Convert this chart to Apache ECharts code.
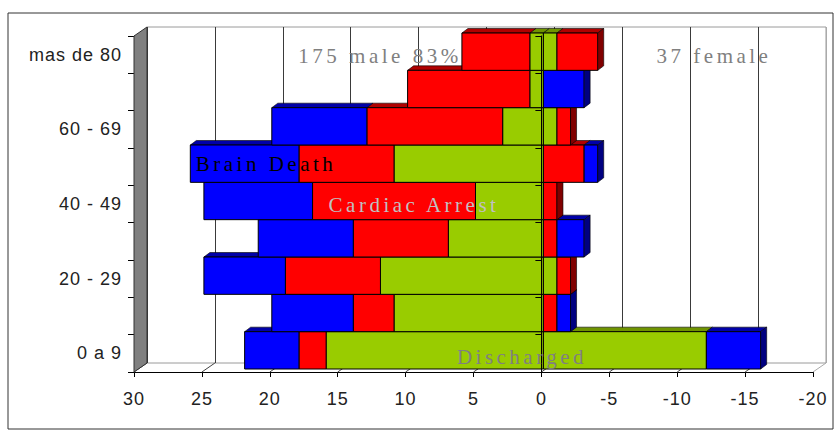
<!DOCTYPE html>
<html>
<head>
<meta charset="utf-8">
<script src="https://cdn.jsdelivr.net/npm/echarts@6/dist/echarts.min.js"></script>
<style>
html,body{margin:0;padding:0;background:#fff;}
#c{width:840px;height:432px;}
</style>
</head>
<body>
<div id="c"></div>
<script>
// ---- data ----
const categories = ['0 a 9', '10 - 19', '20 - 29', '30 - 39', '40 - 49', '50 - 59', '60 - 69', '70 - 79', 'mas de 80'];
const maleDischarged   = [16, 11, 12, 7, 5, 11, 3, 1, 1];
const maleCardiac      = [2, 3, 7, 7, 12, 7, 10, 9, 5];
const maleBrainDeath   = [4, 6, 6, 7, 8, 8, 7, 0, 0];
const femaleDischarged = [12, 0, 1, 0, 0, 0, 1, 0, 1];
const femaleCardiac    = [0, 1, 1, 1, 1, 3, 1, 0, 3];
const femaleBrainDeath = [4, 1, 0, 2, 0, 1, 0, 3, 0];
const xMin = -20, xMax = 30, xStep = 5;
const annotations = ['175 male 83%', '37 female', 'Brain Death', 'Cardiac Arrest', 'Discharged'];

// ---- styling ----
const FRONT = ['#99cc00', '#ff0000', '#0000ff'];
const TOP   = ['#6f9400', '#b00000', '#0000a8'];
const SIDE  = ['#4d6600', '#800000', '#000080'];
const SX = 2, SY = -3, DX = 6, DY = -4.5;
const G0 = {left: 134, right: 27, top: 36, bottom: 60};
const G1 = {left: 147, right: 14, top: 27, bottom: 69};
const W = 840, H = 432;

// build segment table from the arrays
const segs = [];
for (let i = 0; i < categories.length; i++) {
  const m = [maleDischarged[i], maleCardiac[i], maleBrainDeath[i]];
  let acc = 0;
  m.forEach((v, k) => { if (v > 0) { segs.push([i, acc, acc + v, k, 0]); acc += v; } });
  const f = [femaleDischarged[i], femaleCardiac[i], femaleBrainDeath[i]];
  let last = -1; f.forEach((v, k) => { if (v > 0) last = k; });
  acc = 0;
  f.forEach((v, k) => { if (v > 0) { segs.push([i, -acc, -(acc + v), k, k === last ? 1 : 0]); acc += v; } });
}

function renderItem(params, api) {
  const i = api.value(0), a = api.value(1), b = api.value(2), ci = api.value(3), side = api.value(4);
  const pa = api.coord([a, i]), pb = api.coord([b, i]);
  const h = api.size([0, 1])[1];
  const x1 = Math.min(pa[0], pb[0]) + SX, x2 = Math.max(pa[0], pb[0]) + SX;
  const yt = pa[1] - h / 2 + SY, yb = yt + h;
  const base = i * 10;
  const children = [
    {type: 'polygon', z2: base + 1,
      shape: {points: [[x1, yt], [x2, yt], [x2 + DX, yt + DY], [x1 + DX, yt + DY]]},
      style: {fill: TOP[ci], stroke: '#000', lineWidth: 0.6}},
    {type: 'rect', z2: base + 2,
      shape: {x: x1, y: yt, width: x2 - x1, height: h},
      style: {fill: FRONT[ci], stroke: '#000', lineWidth: 1}}
  ];
  if (side) {
    children.push({type: 'polygon', z2: base + 3,
      shape: {points: [[x2, yt], [x2 + DX, yt + DY], [x2 + DX, yb + DY], [x2, yb]]},
      style: {fill: SIDE[ci], stroke: '#000', lineWidth: 0.6}});
  }
  return {type: 'group', children: children};
}

const chart = echarts.init(document.getElementById('c'), null, {renderer: 'svg', width: W, height: H});
const splitColors = ['#aaaaaa'].concat(new Array(10).fill('#3a3a3a'));

chart.setOption({
  animation: false,
  backgroundColor: '#ffffff',
  grid: [
    Object.assign({containLabel: false}, G0),
    Object.assign({containLabel: false, show: true, borderColor: '#9a9a9a', borderWidth: 1, backgroundColor: 'transparent'}, G1)
  ],
  xAxis: [
    {type: 'value', gridIndex: 0, min: xMin, max: xMax, interval: xStep, inverse: true,
      axisLine: {show: true, onZero: false, lineStyle: {color: '#000', width: 1}},
      axisTick: {show: true, length: 5, lineStyle: {color: '#000'}},
      axisLabel: {show: true, margin: 18, color: '#222', fontSize: 18, fontFamily: 'Liberation Sans'},
      splitLine: {show: false}},
    {type: 'value', gridIndex: 1, min: xMin, max: xMax, interval: xStep, inverse: true,
      axisLine: {show: false}, axisTick: {show: false}, axisLabel: {show: false},
      splitLine: {show: true, lineStyle: {color: splitColors, width: 1}}}
  ],
  yAxis: [
    {type: 'category', gridIndex: 0, data: categories, position: 'left',
      axisLine: {show: true, onZero: false, lineStyle: {color: '#000', width: 1}},
      axisTick: {show: true, length: 6, interval: 0, lineStyle: {color: '#000'}},
      axisLabel: {show: true, interval: 1, margin: 12, color: '#222', fontSize: 18, fontFamily: 'Liberation Sans'},
      splitLine: {show: false}},
    {type: 'category', gridIndex: 0, data: categories, position: 'right', z: 10,
      axisLine: {show: true, onZero: true, lineStyle: {color: '#000', width: 1}},
      axisTick: {show: true, inside: true, length: 6, interval: 0, lineStyle: {color: '#000'}},
      axisLabel: {show: false}, splitLine: {show: false}},
    {type: 'category', gridIndex: 1, data: categories,
      axisLine: {show: false}, axisTick: {show: false}, axisLabel: {show: false}, splitLine: {show: false}}
  ],
  series: [{
    type: 'custom', name: 'bars', xAxisIndex: 0, yAxisIndex: 0, z: 3,
    renderItem: renderItem,
    encode: {x: [1, 2], y: 0},
    data: segs
  }]
});

// frame decorations computed from the axes
const yFrontBot = H - G0.bottom, yBackBot = H - G1.bottom;
const yFrontTop = G0.top, yBackTop = G1.top;
const gfx = [];
gfx.push({type: 'rect', z: 0, shape: {x: 8, y: 13, width: 825, height: 416},
  style: {fill: 'none', stroke: '#333', lineWidth: 1}});
for (let v = xMin; v <= xMax; v += xStep) {
  const xf = chart.convertToPixel({xAxisIndex: 0}, v);
  const xb = chart.convertToPixel({xAxisIndex: 1}, v);
  gfx.push({type: 'line', z: 1, shape: {x1: xf, y1: yFrontBot, x2: xb, y2: yBackBot},
    style: {stroke: v === xMin ? '#aaa' : '#444', lineWidth: 1}});
}
const xl0 = chart.convertToPixel({xAxisIndex: 0}, xMax);
const xl1 = chart.convertToPixel({xAxisIndex: 1}, xMax);
gfx.push({type: 'polygon', z: 1,
  shape: {points: [[xl0, yFrontTop], [xl1, yBackTop], [xl1, yBackBot], [xl0, yFrontBot]]},
  style: {fill: '#808080', stroke: '#333', lineWidth: 1}});
const serif = 'Liberation Serif';
function txt(s, x, y, color) {
  return {type: 'text', z: 20, x: x, y: y,
    style: {text: s, fill: color, font: '21px "' + serif + '"', textAlign: 'center', textVerticalAlign: 'middle'}};
}
gfx.push(txt(annotations[0], 380, 56, '#808080'));
gfx.push(txt(annotations[1], 714, 56, '#808080'));
gfx.push(txt(annotations[2], 266, 164, '#000000'));
gfx.push(txt(annotations[3], 414, 205, '#c0c0c0'));
gfx.push(txt(annotations[4], 522, 357, '#808080'));
chart.setOption({graphic: {elements: gfx}});

function spaceText() {
  document.querySelectorAll('#c svg text').forEach(function (t) {
    const s = t.textContent;
    t.setAttribute('letter-spacing', annotations.indexOf(s) >= 0 ? '3.5' : '1');
  });
}
chart.on('finished', spaceText);
spaceText();
setTimeout(spaceText, 50);
setTimeout(spaceText, 300);
</script>
</body>
</html>
